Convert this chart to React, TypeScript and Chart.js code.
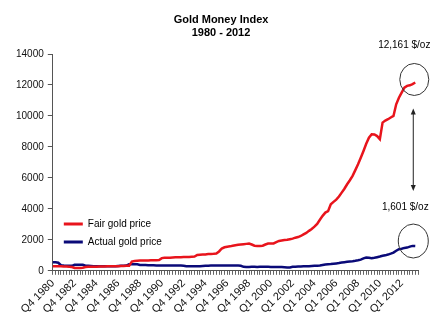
import React, { useEffect, useRef } from 'react';
import { Chart, registerables } from 'chart.js';

Chart.register(...registerables);

const titleLines = ['Gold Money Index', '1980 - 2012'];
const seriesNames = ['Fair gold price', 'Actual gold price'];
const endLabels = ['12,161 $/oz', '1,601 $/oz'];

const tickLabels = [
  'Q4 1980', 'Q4 1982', 'Q4 1984', 'Q4 1986', 'Q4 1988', 'Q4 1990', 'Q4 1992', 'Q4 1994', 'Q4 1996', 'Q4 1998',
  'Q1 2000', 'Q1 2002', 'Q1 2004', 'Q1 2006', 'Q1 2008', 'Q1 2010', 'Q1 2012',
];

const fairPrice = [
  300, 300, 290, 290, 280, 280, 270, 250,
  190, 190, 190, 200,
  250, 260, 260, 270, 270, 280, 280, 280, 290, 290, 300, 300, 300, 310, 310, 320, 320,
  600,
  640, 650, 660, 660, 670, 670, 680, 680, 690, 700,
  820,
  840, 850, 850, 860, 870, 870, 880, 890, 900, 900, 910, 920,
  1020, 1040, 1050, 1060,
  1080, 1090, 1100, 1120,
  1250, 1440,
  1520, 1560, 1580, 1620, 1650, 1680,
  1700, 1720, 1740, 1760, 1700, 1620, 1610, 1610, 1620, 1700,
  1760, 1760, 1770, 1850, 1930, 1960, 1990, 2010, 2045, 2080,
  2140, 2180, 2250, 2350, 2450, 2580, 2700, 2850, 3030, 3300,
  3550, 3760, 3850, 4300, 4450, 4600, 4800, 5050, 5300, 5590,
  5850, 6130, 6500, 6880, 7300, 7740, 8200, 8600, 8820, 8800,
  8700, 8500, 9570, 9700, 9790, 9900, 10000, 10750, 11180, 11500,
  11830, 11940, 11980, 12060, 12161,
];

const actualPrice = [
  560, 550, 520,
  360, 340, 330, 320, 320,
  390, 400, 400, 390,
  330, 320, 310, 300, 300, 290, 290, 290, 290, 300, 300, 300, 310, 320, 330, 340,
  420, 430, 430, 420,
  380, 370, 370, 360, 360, 360, 350, 350, 350,
  350, 340, 340, 340, 340, 340, 340, 330,
  300, 290, 290, 290, 290,
  300, 310, 320, 330, 340, 340, 340, 340, 340, 340, 340, 340, 340, 340, 340, 330,
  260, 250, 250,
  260, 260, 250, 260, 270, 260, 260, 250, 250, 240, 240, 240, 230,
  210, 220,
  260, 270, 280, 280, 290, 300,
  300, 310, 320, 330,
  350, 380, 410, 430,
  440, 460, 480, 500, 540,
  560, 580, 600, 620, 645,
  680, 720, 800, 860,
  840, 820,
  840, 880, 920, 970,
  1000, 1050, 1110, 1180,
  1300, 1400,
  1430, 1480, 1500,
  1560, 1610, 1601,
];

const RED = '#e8141c';
const BLUE = '#0a0a78';
const FONT = '"Liberation Sans", Arial, sans-serif';

const categories = Array.from({ length: fairPrice.length + 1 }, (_, i) =>
  i % 8 === 0 && tickLabels[i / 8] !== undefined ? tickLabels[i / 8] : ''
);

const overlay = {
  id: 'overlay',
  afterDraw(chart: any) {
    const { ctx, chartArea, scales } = chart;
    const xs = scales.x;
    const ys = scales.y;
    ctx.save();
    // title
    ctx.fillStyle = '#000';
    ctx.font = `bold 11px ${FONT}`;
    ctx.textAlign = 'center';
    ctx.textBaseline = 'middle';
    ctx.fillText(titleLines[0], chart.width / 2, 20);
    ctx.fillText(titleLines[1], chart.width / 2, 33);

    // legend
    const lx = chartArea.left + 11;
    const rows = [
      { name: seriesNames[0], color: RED, y: 224 },
      { name: seriesNames[1], color: BLUE, y: 242 },
    ];
    ctx.font = `10px ${FONT}`;
    ctx.textAlign = 'left';
    rows.forEach((r) => {
      ctx.strokeStyle = r.color;
      ctx.lineWidth = 3;
      ctx.beginPath();
      ctx.moveTo(lx, r.y);
      ctx.lineTo(lx + 19, r.y);
      ctx.stroke();
      ctx.fillStyle = '#000';
      ctx.fillText(r.name, lx + 24, r.y);
    });

    // annotations
    const last = fairPrice.length - 1;
    const px = xs.getPixelForValue(last);
    const ry = ys.getPixelForValue(fairPrice[last]);
    const by = ys.getPixelForValue(actualPrice[last]);
    const c1 = { x: px - 1, y: ry - 3 };
    const c2 = { x: px - 2, y: by - 5 };
    ctx.strokeStyle = '#333';
    ctx.lineWidth = 1;
    ctx.beginPath();
    ctx.ellipse(c1.x, c1.y, 14.5, 16, 0, 0, Math.PI * 2);
    ctx.stroke();
    ctx.beginPath();
    ctx.ellipse(c2.x, c2.y, 15, 17, 0, 0, Math.PI * 2);
    ctx.stroke();

    ctx.fillStyle = '#000';
    ctx.textAlign = 'center';
    ctx.font = `10px ${FONT}`;
    ctx.fillText(endLabels[0], c1.x - 10, c1.y - 34);
    ctx.fillText(endLabels[1], c2.x - 8, c2.y - 34);

    // double arrow
    const ax = c2.x;
    const y1 = c1.y + 29;
    const y2 = c2.y - 50;
    ctx.strokeStyle = '#222';
    ctx.fillStyle = '#222';
    ctx.beginPath();
    ctx.moveTo(ax, y1 + 4);
    ctx.lineTo(ax, y2 - 4);
    ctx.stroke();
    ctx.beginPath();
    ctx.moveTo(ax, y1);
    ctx.lineTo(ax - 2.5, y1 + 6);
    ctx.lineTo(ax + 2.5, y1 + 6);
    ctx.closePath();
    ctx.fill();
    ctx.beginPath();
    ctx.moveTo(ax, y2);
    ctx.lineTo(ax - 2.5, y2 - 6);
    ctx.lineTo(ax + 2.5, y2 - 6);
    ctx.closePath();
    ctx.fill();
    ctx.restore();
  },
};

export default function App() {
  const ref = useRef<HTMLCanvasElement>(null);
  useEffect(() => {
    if (!ref.current) return;
    const chart = new Chart(ref.current, {
      type: 'line',
      data: {
        labels: categories,
        datasets: [
          {
            label: seriesNames[0],
            data: fairPrice,
            borderColor: RED,
            backgroundColor: RED,
            borderWidth: 2.5,
            pointRadius: 0,
            tension: 0,
          },
          {
            label: seriesNames[1],
            data: actualPrice,
            borderColor: BLUE,
            backgroundColor: BLUE,
            borderWidth: 2.5,
            pointRadius: 0,
            tension: 0,
          },
        ],
      },
      options: {
        animation: false,
        responsive: false,
        devicePixelRatio: 1,
        layout: { padding: { top: 54, left: 12, right: 24, bottom: 6 } },
        plugins: {
          legend: { display: false },
          title: { display: false },
          tooltip: { enabled: false },
        },
        scales: {
          x: {
            type: 'category',
            offset: false,
            grid: {
              display: true,
              drawOnChartArea: false,
              drawTicks: true,
              tickLength: 4,
              color: '#666',
              lineWidth: 1,
            },
            border: { display: true, color: '#555', width: 1 },
            ticks: {
              autoSkip: false,
              maxRotation: 45,
              minRotation: 45,
              padding: 2,
              color: '#111',
              font: { family: FONT, size: 11 },
            },
          },
          y: {
            min: 0,
            max: 14000,
            grid: {
              display: true,
              drawOnChartArea: false,
              drawTicks: true,
              tickLength: 5,
              color: '#555',
            },
            border: { display: true, color: '#555', width: 1 },
            ticks: {
              stepSize: 2000,
              padding: 4,
              color: '#111',
              font: { family: FONT, size: 10 },
              callback: (v: any) => String(v),
            },
          },
        },
      },
      plugins: [overlay],
    });
    return () => chart.destroy();
  }, []);
  return (
    <div style={{ position: 'fixed', left: 0, top: 0, width: 442, height: 324, background: '#fff' }}>
      <canvas ref={ref} width={442} height={324} />
    </div>
  );
}
